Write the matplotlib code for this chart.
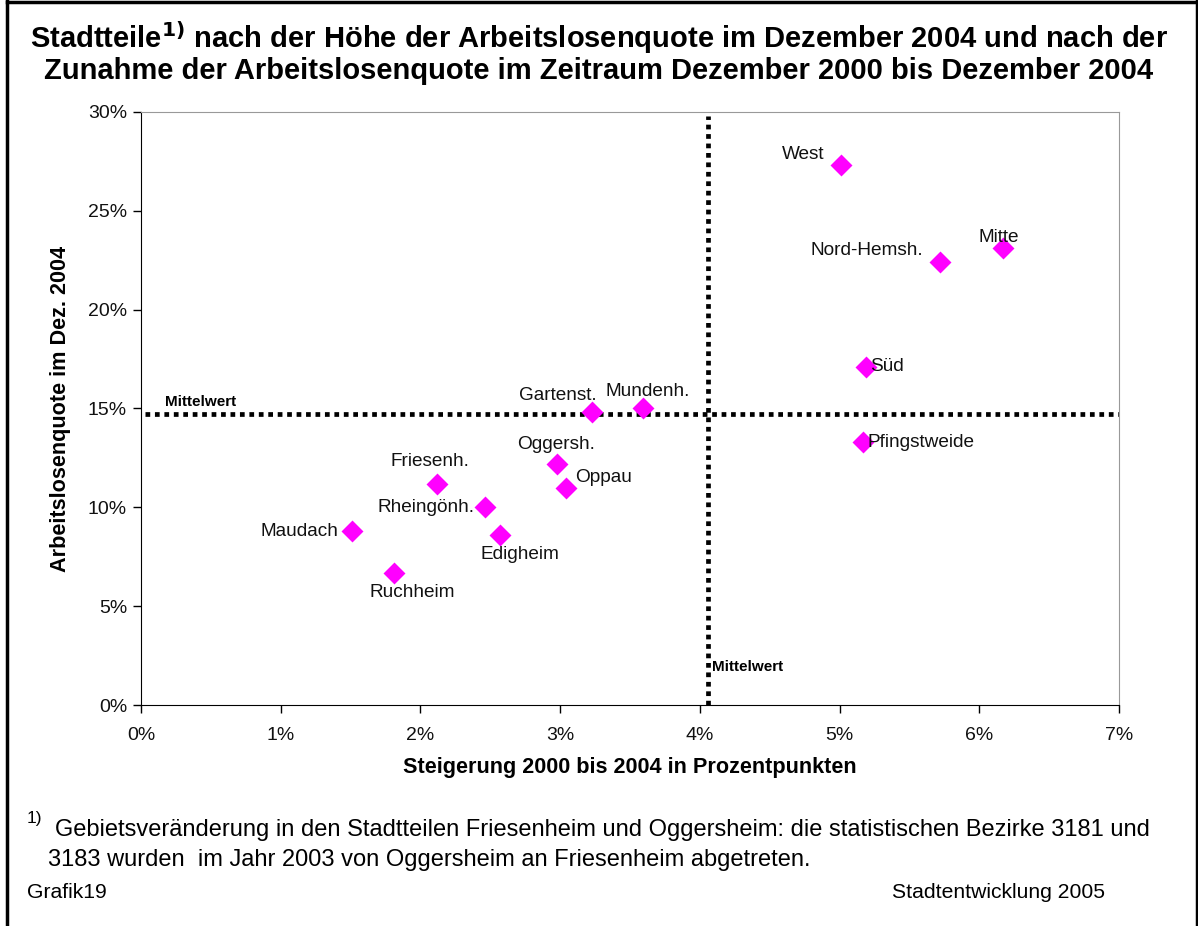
import matplotlib.pyplot as plt
from matplotlib.ticker import FuncFormatter
from matplotlib.lines import Line2D

plt.rcParams['font.family'] = ['Liberation Sans', 'DejaVu Sans']

# Daten: Steigerung (Prozentpunkte) und Arbeitslosenquote Dez. 2004
stadtteile = ['West', 'Mitte', 'Nord-Hemsh.', 'Süd', 'Pfingstweide', 'Gartenst.',
              'Mundenh.', 'Oggersh.', 'Oppau', 'Friesenh.', 'Rheingönh.', 'Maudach',
              'Edigheim', 'Ruchheim']
steigerung = [5.01, 6.17, 5.72, 5.19, 5.17, 3.23, 3.59, 2.98, 3.04, 2.12, 2.46, 1.51, 2.57, 1.81]
quote = [27.3, 23.1, 22.4, 17.1, 13.3, 14.8, 15.0, 12.2, 11.0, 11.2, 10.0, 8.8, 8.6, 6.7]
mittel_x = 4.06
mittel_y = 14.7

# Lage der Beschriftungen (Versatz in Punkten, Ausrichtung)
label_pos = {
    'West': (-12, 2, 'right', 'bottom'),
    'Mitte': (-3, 2, 'center', 'bottom'),
    'Nord-Hemsh.': (-12, 2, 'right', 'bottom'),
    'Süd': (3, 0, 'left', 'center'),
    'Pfingstweide': (3, 0, 'left', 'center'),
    'Gartenst.': (3, 6, 'right', 'bottom'),
    'Mundenh.': (4, 6, 'center', 'bottom'),
    'Oggersh.': (-1, 8, 'center', 'bottom'),
    'Oppau': (7, 1, 'left', 'bottom'),
    'Friesenh.': (-5, 10, 'center', 'bottom'),
    'Rheingönh.': (-7, 0, 'right', 'center'),
    'Maudach': (-10, 0, 'right', 'center'),
    'Edigheim': (14, -8, 'center', 'top'),
    'Ruchheim': (13, -8, 'center', 'top'),
}

fig = plt.figure(figsize=(11.98, 9.26), dpi=100)
ax = fig.add_axes([141 / 1198, (926 - 705) / 926, 978 / 1198, 593 / 926])

ax.scatter(steigerung, quote, marker='D', s=125, color='#ff00ff', zorder=3, linewidths=0)

for name, x, y in zip(stadtteile, steigerung, quote):
    dx, dy, ha, va = label_pos[name]
    ax.annotate(name, (x, y), xytext=(dx, dy), textcoords='offset points',
                ha=ha, va=va, fontsize=13.7, color='#111111', zorder=4)

# Mittelwertlinien
ax.plot([0.03, 7], [mittel_y, mittel_y], color='black', lw=3.4, linestyle=(0, (1, 1)), zorder=2)
ax.plot([mittel_x, mittel_x], [0, 29.8], color='black', lw=3.4, linestyle=(0, (1, 1)), zorder=2)
ax.text(0.17, mittel_y + 0.3, 'Mittelwert', fontsize=11, fontweight='bold', ha='left', va='bottom')
ax.text(mittel_x + 0.03, 1.9, 'Mittelwert', fontsize=11, fontweight='bold', ha='left', va='center')

ax.set_xlim(0, 7)
ax.set_ylim(0, 30)
ax.set_xticks(range(0, 8))
ax.set_yticks(range(0, 31, 5))
ax.xaxis.set_major_formatter(FuncFormatter(lambda v, p: f'{v:.0f}%'))
ax.yaxis.set_major_formatter(FuncFormatter(lambda v, p: f'{v:.0f}%'))
ax.tick_params(axis='both', labelsize=14, length=6, width=1, color='black', labelcolor='#111111')
ax.tick_params(axis='x', pad=10)
ax.tick_params(axis='y', pad=4)
ax.spines['top'].set_color('#999999')
ax.spines['right'].set_color('#999999')
ax.spines['left'].set_color('black')
ax.spines['bottom'].set_color('black')

ax.set_xlabel('Steigerung 2000 bis 2004 in Prozentpunkten', fontsize=15.6, fontweight='bold', labelpad=9)
ax.set_ylabel('Arbeitslosenquote im Dez. 2004', fontsize=15.6, fontweight='bold', labelpad=12)

fig.text(0.5, 1 - 38 / 926,
         r'Stadtteile$^{\mathbf{1)}}$ nach der Höhe der Arbeitslosenquote im Dezember 2004 und nach der',
         ha='center', va='center', fontsize=21, fontweight='bold')
fig.text(0.5, 1 - 71 / 926,
         'Zunahme der Arbeitslosenquote im Zeitraum Dezember 2000 bis Dezember 2004',
         ha='center', va='center', fontsize=21, fontweight='bold')

fig.text(27 / 1198, 1 - 818 / 926, '1)', fontsize=12.5, ha='left', va='center')
fig.text(55 / 1198, 1 - 830 / 926,
         'Gebietsveränderung in den Stadtteilen Friesenheim und Oggersheim: die statistischen Bezirke 3181 und',
         fontsize=17, ha='left', va='center')
fig.text(48 / 1198, 1 - 860 / 926,
         '3183 wurden  im Jahr 2003 von Oggersheim an Friesenheim abgetreten.',
         fontsize=17, ha='left', va='center')
fig.text(27 / 1198, 1 - 893 / 926, 'Grafik19', fontsize=15.2, ha='left', va='center')
fig.text(1105 / 1198, 1 - 893 / 926, 'Stadtentwicklung 2005', fontsize=15.2, ha='right', va='center')

# Rahmen um die Grafik
for xs, ys in [([7, 7], [0, 926]), ([7, 1197], [1.5, 1.5]), ([1197, 1197], [0, 926])]:
    fig.add_artist(Line2D([x / 1198 for x in xs], [1 - y / 926 for y in ys],
                          color='black', lw=2.5, transform=fig.transFigure))

fig.savefig('out.png', dpi=100, facecolor='white')
